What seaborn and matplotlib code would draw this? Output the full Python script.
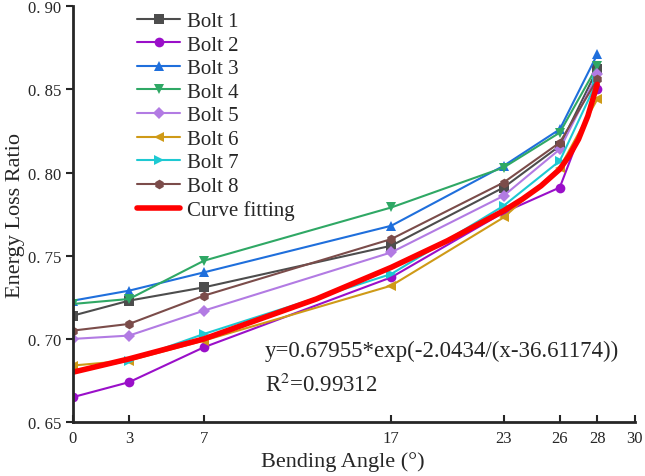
import numpy as np
import pandas as pd
import seaborn as sns
import matplotlib
matplotlib.use("Agg")
import matplotlib.pyplot as plt
from matplotlib.ticker import FuncFormatter

# === Data ===
angles = [0, 3, 7, 17, 23, 26, 28]
bolt_names = ["Bolt 1", "Bolt 2", "Bolt 3", "Bolt 4", "Bolt 5", "Bolt 6", "Bolt 7", "Bolt 8"]
bolt1 = [0.714, 0.723, 0.731, 0.756, 0.791, 0.816, 0.862]
bolt2 = [0.665, 0.674, 0.695, 0.737, 0.776, 0.791, 0.850]
bolt3 = [0.723, 0.729, 0.740, 0.768, 0.804, 0.826, 0.871]
bolt4 = [0.721, 0.724, 0.747, 0.779, 0.803, 0.824, 0.864]
bolt5 = [0.700, 0.702, 0.717, 0.752, 0.786, 0.814, 0.859]
bolt6 = [0.684, 0.687, 0.699, 0.732, 0.773, 0.803, 0.844]
bolt7 = [0.680, 0.687, 0.703, 0.739, 0.780, 0.807, 0.855]
bolt8 = [0.705, 0.709, 0.726, 0.760, 0.794, 0.818, 0.856]

fit_x = [0, 3, 7, 10, 13, 17, 20, 23, 24, 25, 26, 26.5, 27, 27.5, 28]
fit_y = [0.680, 0.688, 0.700, 0.712, 0.724, 0.743, 0.759, 0.777, 0.784, 0.792, 0.802, 0.810, 0.820, 0.834, 0.853]

x_ticks = [0, 3, 7, 17, 23, 26, 28, 30]
y_ticks = [0.65, 0.70, 0.75, 0.80, 0.85, 0.90]
equation = "y=0.67955*exp(-2.0434/(x-36.61174))"
r2_text = "R$^{2}$=0.99312"

colors = ["#4d4d4d", "#9a0fc9", "#1f6fdc", "#2fa865", "#b27be3", "#cf9a17", "#1ec9d2", "#7b4c4a"]
markers = ["s", "o", "^", "v", "D", "<", ">", "h"]

# === Long-form table ===
series = [bolt1, bolt2, bolt3, bolt4, bolt5, bolt6, bolt7, bolt8]
df = pd.DataFrame({
    "angle": angles * len(bolt_names),
    "ratio": [v for s in series for v in s],
    "bolt": [b for b in bolt_names for _ in angles],
})
fit_df = pd.DataFrame({"angle": fit_x, "ratio": fit_y})

# === Plot ===
sns.set_style("ticks")
plt.rcParams["font.family"] = ["Liberation Serif", "DejaVu Serif"]
plt.rcParams["mathtext.fontset"] = "stix"

fig = plt.figure(figsize=(6.45, 4.77), dpi=100)
ax = fig.add_axes([0.113, 0.113, 0.871, 0.872])

sns.lineplot(data=df, x="angle", y="ratio", hue="bolt", style="bolt",
             palette=dict(zip(bolt_names, colors)),
             markers=dict(zip(bolt_names, markers)), dashes=False,
             markersize=7, markeredgewidth=0, linewidth=1.5, ax=ax)
sns.lineplot(data=fit_df, x="angle", y="ratio", color="#ff0000", linewidth=4,
             label="Curve fitting", ax=ax)

# diamond markers are a bit smaller in the original
for line in ax.lines:
    if line.get_marker() == "D":
        line.set_markersize(6)

ax.set_xlim(0, 30)
ax.set_ylim(0.65, 0.90)
ax.set_xticks(x_ticks)
ax.set_yticks(y_ticks)
ax.yaxis.set_major_formatter(FuncFormatter(lambda v, p: f"{v:.2f}".replace(".", ". ")))
ax.tick_params(axis="x", direction="in", length=5, width=1.5, labelsize=12, pad=6)
ax.tick_params(axis="y", direction="out", length=5, width=1.5, labelsize=12)
for side in ["top", "right"]:
    ax.spines[side].set_visible(False)
for side in ["left", "bottom"]:
    ax.spines[side].set_linewidth(2)

ax.set_xlabel("Bending Angle (°)", fontsize=16, labelpad=2)
ax.xaxis.set_label_coords(0.48, -0.07)
ax.set_ylabel("Energy Loss Ratio", fontsize=16)
ax.yaxis.set_label_coords(-0.085, 0.5)

ax.text(10.25, 0.6933, equation, fontsize=16.5, va="center")
ax.text(10.25, 0.6728, r2_text, fontsize=16.5, va="center")

leg = ax.legend(loc="upper left", bbox_to_anchor=(0.095, 1.012), frameon=False,
                fontsize=15, handlelength=2.1, handletextpad=0.3, labelspacing=0.19,
                borderaxespad=0.1)

fig.savefig("out.png", dpi=100)
